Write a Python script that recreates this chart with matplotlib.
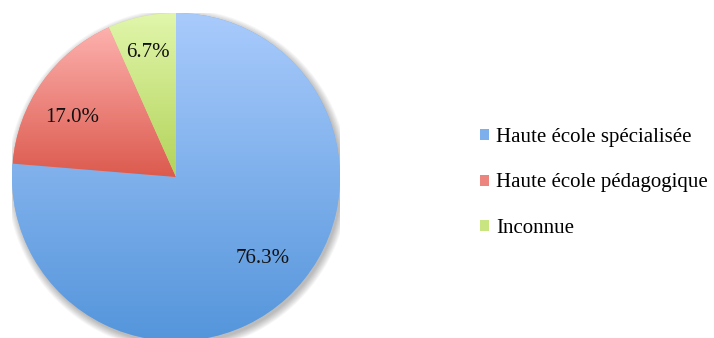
import numpy as np
import matplotlib.pyplot as plt
from matplotlib.colors import LinearSegmentedColormap
from matplotlib.patches import Circle

plt.rcParams['font.family'] = 'serif'
plt.rcParams['font.serif'] = ['Liberation Serif', 'DejaVu Serif']

labels = ['Haute école spécialisée', 'Haute école pédagogique', 'Inconnue']
shares = [76.3, 17.0, 6.7]
# top / bottom colour of each wedge's vertical gradient
grad_top = ['#A9CBFC', '#FDB1AE', '#E1F6AB']
grad_bottom = ['#5495DB', '#DC5A4E', '#B2D35A']
legend_colors = ['#7DAFEC', '#EC857D', '#C9E582']

fig = plt.figure(figsize=(7.14, 3.38), dpi=100)
W, H = 714, 338
cx, cy, r = 176, 177, 164
ax = fig.add_axes([(cx - r) / W, (H - cy - r) / H, 2 * r / W, 2 * r / H])

# soft drop shadow below/right of the disc
for k in range(8):
    ax.add_patch(Circle((0.012, -0.018), 1.0 + 0.006 * k, color='#000000',
                        alpha=0.035, lw=0, zorder=0))

wedges, texts, autotexts = ax.pie(
    shares, startangle=90, counterclock=False, radius=1,
    colors=legend_colors, autopct='%1.1f%%', pctdistance=0.76,
    wedgeprops=dict(linewidth=0), textprops=dict(fontsize=15, color='#111111'))

for i, w in enumerate(wedges):
    w.set_zorder(1)
    ys = w.get_path().vertices[:, 1]
    xs = w.get_path().vertices[:, 0]
    cmap = LinearSegmentedColormap.from_list('g%d' % i, [grad_bottom[i], grad_top[i]])
    grad = np.linspace(0, 1, 256).reshape(-1, 1)
    im = ax.imshow(grad, cmap=cmap, origin='lower', aspect='auto',
                   extent=[xs.min(), xs.max(), ys.min(), ys.max()], zorder=2)
    im.set_clip_path(w)

# nudge the percentage labels
label_pos = [(0.53, -0.494), (-0.634, 0.36), (-0.171, 0.76)]
for t, p in zip(autotexts, label_pos):
    t.set_position(p)
    t.set_zorder(3)

ax.set_xlim(-1, 1)
ax.set_ylim(-1, 1)
ax.set_aspect('equal')
ax.axis('off')

fig.legend(wedges, labels, loc='center left', bbox_to_anchor=(480 / W, (H - 183) / H),
           frameon=False, fontsize=15, handlelength=0.43, handleheight=0.43,
           handletextpad=0.34, labelspacing=1.28, borderpad=0, borderaxespad=0)

fig.savefig('out.png', dpi=100)
